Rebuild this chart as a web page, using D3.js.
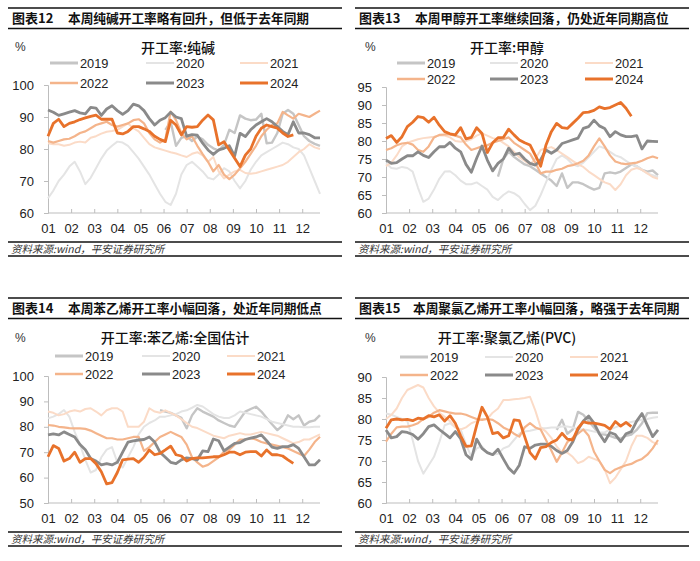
<!DOCTYPE html>
<html><head><meta charset="utf-8">
<script src="https://cdn.jsdelivr.net/npm/d3@7"></script>
<style>body{margin:0;background:#fff}svg{display:block}</style>
</head><body>
<svg id="c" width="700" height="561"></svg>
<script>
const months = ["01","02","03","04","05","06","07","08","09","10","11","12"];
const years = ["2019","2020","2021","2022","2023","2024"];

// 纯碱
const soda2019 = [null,null,null,null,null,null,null,null,null,null,null,null,null,null,null,null,null,null,null,null,null,null,
 86,88.5,81,83.5,84,82.5,83.9,83,81.3,80.2,79.5,81.3,86,85,90.5,89.5,89,89.2,91,81.8,82,85,91,92.2,91,87.5,84,82.5,81.6,81];
const soda2020 = [64.6,67,70,72,74.5,76,73,69,71,74,77,79.5,81,82.3,82,81,79,77,74.5,72,69,66,63.5,62.5,66,72,75,76,74.5,73,
 71,70.5,72,74,73,70,67.7,70,73.5,76,78,79,80,81,82,81.5,80.5,80,78,74,70,66];
const soda2021 = [81.8,81.5,81.5,81,81.3,82,82.3,82,83.5,84,84.8,85.4,85.6,86,87,88,86.5,85.5,83.5,81.5,80.5,80,79.5,79,78.6,78,
 77.5,78.5,79,78,76,77.5,73,70.8,72,73,73.5,72.5,72.3,72.5,73,73.5,74,74.5,75,76,77.5,79,80,81.5,80.5,80];
const soda2022 = [82.5,82,82.5,83,83.2,84,85,85.5,86.5,87.5,88,88.5,87.5,87,87.5,88,89,89.3,88,85,83,82,83,91.7,89,85,83,84,81,78.4,
 76,73,75,72,70.6,72,74,76,78.5,81,84,86,87.5,88,91.6,90.5,89.5,91,90.5,90,91,92];
const soda2023 = [92.2,91.5,90.5,91,91.5,92,91.3,91,93,92.8,90.5,92.5,93.5,92,90.8,92,94,93.5,92,89.5,87.5,89,89.8,91.5,90,89.5,
 84,84.5,84.3,81.8,79.7,78.3,79.7,80.2,81,77.8,84.9,83.9,86,87.5,88.5,89.5,88.5,87,85.5,84.5,88.5,85,85,84.5,83.5,83.5];
const soda2024 = [84,88,89.3,87,88,88.5,89.2,89.7,90.2,90.6,89.3,89.3,89.3,85,84.7,85.5,87,87,86.3,85.5,84,83,82.3,89,87.5,84.4,
 87,86.8,87,89,90.6,89.1,81.3,82.3,79.7,77.1,74.5,78.1,80,84,86.5,87.5,87,86.5,85,83.9,84.4];

// 甲醇
const meth2019 = [null,null,null,null,null,null,null,null,null,null,null,null,null,null,null,null,null,null,null,null,null,
 70.1,75,77,75.6,74.5,73.5,73,72,71,70,69,67.5,71,67,68.5,68.5,68,67.2,66.5,67,71,71.3,71,71.5,72.5,73.5,73,72,71.5,71.8,70.5];
const meth2020 = [73.8,72.5,72.3,72.8,72.5,71.5,67,63.1,64,66.5,69.5,71.5,71.6,70.5,69,68,68,68.5,67.5,66.5,64.5,63.6,65,66,65.5,64.5,
 62.5,60.8,62,65,68.5,72,75,76,75,73.5,73,74,75.5,77,78.5,78,77,76,75.5,74.5,73.5,73,72,71,70.5,70];
const meth2021 = [73,74,76,78.5,79.5,80,80.5,80.8,81,81.2,81.5,81.5,81,80,79.8,80,80.5,81.5,82.1,81.5,80.8,80.5,79.5,78.5,77,75.5,
 74.5,73.5,75,77.5,78,78.3,77.5,76.5,75.5,74.5,73.5,72.8,71.5,70.5,69.5,68.5,68,66.4,68,70.5,72,72.5,72,71,70,69.5];
const meth2022 = [77.5,78,78.8,79.3,79.5,79,77.5,77,78.5,81,81.7,81.8,81.8,81.5,81,79,77.5,78,78.5,78.8,79.5,80,80.5,81,79.5,78.5,
 77.5,76.5,74,71,71.5,71.5,72,72.3,73,73.3,73.8,74.5,76,78.5,80.7,78.5,76,74.3,73.8,73.6,73.8,74,74.5,75.2,75.7,75.2];
const meth2023 = [74.7,73.8,74,75,75.9,75.9,77,76,75.4,77,78.4,78.4,79.6,78,77,73.5,71.3,75.2,78.6,74.7,71.7,73.8,75,78,76.2,76.6,
 75,73.8,73.3,74.8,77.5,76.6,77.5,79.3,79.8,80.3,80.8,83.5,84,85.8,84.2,83.5,81.2,82.6,81.7,81.2,81.2,81.5,77.8,80,79.9,79.8];
const meth2024 = [80.7,81.5,79.6,81.2,84,85.2,86.8,86.5,85.2,86.6,84.4,82.6,82,81.7,83.7,80.6,81,83.7,82.1,76.8,79.5,80.9,81,83.3,
 81.7,80.3,79.5,78.9,76,73,78.9,82.6,84.9,83.7,83.5,84.9,86.3,87.9,88,88.5,89.5,89,89.3,90,90.7,89.1,86.9];

// 苯乙烯
const sty2019 = [null,null,null,null,null,null,null,null,null,null,null,null,null,null,null,null,null,null,null,null,null,
 86.6,86,85.5,84.5,83.5,79.4,84.5,87.3,86,85,84,82.5,81.5,80.5,80,83,86,87,87.9,86,83.5,81,78.7,80.5,84.5,83,84.5,80.5,82,82.5,84.6];
const sty2020 = [83.3,84,85,86.6,84,78,73,67,62,63,68,71,72,66,64,68,72,77,80,81.5,82.5,84,84,84.5,85,86,86.5,87.5,88.6,88,
 86.5,85,84,83.5,83.5,84.5,86,85.5,85,84.5,84,83,82,81.5,81,80.5,80,80,79.8,79.8,80,80];
const sty2021 = [86,85.5,84.5,85,86,86.5,86,87,87.3,86,84.5,86.5,87.3,87.3,86,80,80,80,82,87.3,86,85.5,86.5,85.5,84.5,83,
 81.5,80,79.5,78.5,77.5,76.5,76,75.5,76.5,77,77.5,77,77,77.5,78,77.5,77,76.5,75.5,74.5,73.5,74,75,75,76,77];
const sty2022 = [80.7,80.5,80,79.8,79.5,79.4,79.4,79.2,78.5,77.5,76.5,75.5,75.5,75,75,75.5,76,76,70.5,72,74,76,77,78,77,76,
 73,68,66,64.3,65,66.5,68,70.2,71,73,75,75,75.5,75,74,73.5,73,72.5,72,71.5,70.5,69.5,68.5,71,74,76.1];
const sty2023 = [76.8,77.2,76.8,78,77,76,73,71,67.5,66.5,65,65.5,65,66,70,74,74.5,74.8,75,76,74,70,68,66,65.5,67,
 67.8,67.5,67,70.5,70.2,75.2,74.5,70.5,72,73.5,73.8,75,75.5,76,76.8,74.5,72,71.5,72.2,72.2,73,71.5,68.2,65,65,67];
const sty2024 = [68.2,72.6,71.5,66.5,67.5,70,66,67.5,67.5,65.5,62.3,57.5,58,62,67,67.3,67.5,66,68,70.9,69,69.5,70.9,72.4,
 69,68.5,66.5,67.5,67.8,67.8,68,68.2,68.2,69,70,70,69,70,70.2,70.2,68.5,70.9,69,69,68.5,67,65.6];

// 聚氯乙烯
const pvc2019 = [null,null,null,null,null,null,null,null,null,null,null,null,null,null,null,null,null,null,null,null,null,null,null,null,
 null,null,null,null,null,null,null,null,
 77.4,79.8,76.5,77.5,81.7,81,79.5,78,76.5,76.3,76,75.5,75.3,76,76.3,77.4,79,81.4,81.5,81.5];
const pvc2020 = [81.3,81,80.5,80,79.5,75,70,67,69,71,74.5,78.5,79,78,77.5,74,71,73,73.5,72,71.5,71.7,73,73.5,75,76.5,
 77,77.2,77.5,77.8,77.8,78,78,78.2,78.2,78,77.5,77.5,77.3,77,76.8,76.8,77.5,78,78.5,79,79.3,79.6,79.8,80,80.3,80.5];
const pvc2021 = [80,81,82.5,85,86.9,87.5,88.1,87.5,85,83,81.5,80.5,79.5,78,77.5,78,79,79.5,80,80,81.5,82.5,84.5,84.5,84.7,84.8,
 85,85.3,82,78,77,75.5,73.5,72,72,71,69.5,70,71,70.5,70,68,64.7,66,68,70,73.5,76,76,75.5,74.5,74];
const pvc2022 = [74.6,76.5,78,78.2,78.2,78.5,79,80,80.5,81.5,82.1,81.8,81.5,81.3,81.3,81,80.5,80,79.8,80,79.8,79,78,77.4,76.5,75.8,
 78,79,78,77.5,75,72.5,69.8,72,74.5,75.5,76.5,77.5,76,72.2,70,67.9,67.1,68,68.5,69,69.3,70,70.5,71.5,73,75];
const pvc2023 = [77.4,75.5,75.8,77,76.8,76.3,75.2,76.5,78.2,78.6,77.5,76.5,75.5,77,75.3,71.5,70.4,75.2,73,72,71.5,72.8,70.5,68.3,67.1,69,
 73.4,73,73.8,74,74,73.5,72.5,71.8,72.5,74.5,77.5,79.5,80.7,79,76.5,74.6,76.8,76.3,74.6,76.5,77,79.5,81.3,78.5,75.8,77.4];
const pvc2024 = [77.8,79.8,80,79.8,79.9,79.6,80.2,80,80.8,80.5,81,79.5,80.8,79,76,73.5,73.6,78.5,82.8,80.5,76.5,76.8,75.5,76,
 79.8,79.6,75.8,72,70.5,73.2,73.4,74.4,75,76.6,75.2,75,77.8,79.3,79,79,78.8,78.5,77.6,79.4,78.3,79.2,78.2];

const yTicks1 = [60,70,80,90,100];
const yTicks2 = [60,65,70,75,80,85,90,95];
const yTicks3 = [50,60,70,80,90,100];
const yTicks4 = [60,65,70,75,80,85,90];

const colors = ["#c5c5c5","#e4e4e4","#fbdbc7","#f4b48b","#8a8a8a","#e8722b"];
const widths = [2.4,2,2,2.2,2.8,2.8];
const legW = [3,2,2,2.5,3,3];

const panels = [
  {fig:"图表12", head:"本周纯碱开工率略有回升，但低于去年同期", name:"开工率:纯碱",
   hx:8, hy:0, ax:48, yTop:85, yBot:213, dom:[60,100], ticks:yTicks1,
   series:[soda2019,soda2020,soda2021,soda2022,soda2023,soda2024],
   leg:{cols:[50,146,240], rows:[63,83]}, titleX:178, titleY:50, pctX:15, pctY:47, headX:68},
  {fig:"图表13", head:"本周甲醇开工率继续回落，仍处近年同期高位", name:"开工率:甲醇",
   hx:355, hy:0, ax:386, yTop:87, yBot:213, dom:[60,95], ticks:yTicks2,
   series:[meth2019,meth2020,meth2021,meth2022,meth2023,meth2024],
   leg:{cols:[397,490,585], rows:[63,79]}, titleX:507, titleY:50, pctX:365, pctY:47, headX:415},
  {fig:"图表14", head:"本周苯乙烯开工率小幅回落，处近年同期低点", name:"开工率:苯乙烯:全国估计",
   hx:8, hy:290, ax:48, yTop:376, yBot:503, dom:[50,100], ticks:yTicks3,
   series:[sty2019,sty2020,sty2021,sty2022,sty2023,sty2024],
   leg:{cols:[55,142,227], rows:[356,374]}, titleX:175, titleY:340, pctX:15, pctY:338, headX:68},
  {fig:"图表15", head:"本周聚氯乙烯开工率小幅回落，略强于去年同期", name:"开工率:聚氯乙烯(PVC)",
   hx:355, hy:290, ax:386, yTop:377, yBot:503, dom:[60,90], ticks:yTicks4,
   series:[pvc2019,pvc2020,pvc2021,pvc2022,pvc2023,pvc2024],
   leg:{cols:[400,485,570], rows:[357,375]}, titleX:507, titleY:340, pctX:365, pctY:338, headX:413}
];

const svg = d3.select("#c");
const numFont = "'Liberation Sans', Arial, 'Noto Sans CJK SC', sans-serif";
const cjkFont = "'Noto Sans CJK SC', 'Liberation Sans', sans-serif";

panels.forEach(p => {
  const g = svg.append("g");
  const hw = 334;
  // header
  g.append("line").attr("x1",p.hx).attr("x2",p.hx+hw).attr("y1",p.hy+8).attr("y2",p.hy+8).attr("stroke","#111").attr("stroke-width",1.6);
  g.append("line").attr("x1",p.hx).attr("x2",p.hx+hw).attr("y1",p.hy+28.5).attr("y2",p.hy+28.5).attr("stroke","#111").attr("stroke-width",1.6);
  g.append("text").attr("x",p.hx+4).attr("y",p.hy+23).attr("font-family",cjkFont).attr("font-weight","bold")
    .attr("font-size",13).attr("fill","#111").text(p.fig);
  g.append("text").attr("x",p.headX).attr("y",p.hy+23).attr("font-family",cjkFont).attr("font-weight","bold")
    .attr("font-size",12.7).attr("fill","#111").text(p.head);
  // source
  const sy = p.hy + 242;
  g.append("line").attr("x1",p.hx).attr("x2",p.hx+hw).attr("y1",sy).attr("y2",sy).attr("stroke","#111").attr("stroke-width",1.4);
  g.append("line").attr("x1",p.hx).attr("x2",p.hx+hw).attr("y1",sy+14).attr("y2",sy+14).attr("stroke","#111").attr("stroke-width",1.4);
  g.append("text").attr("x",p.hx+3).attr("y",sy+10.5).attr("font-family",cjkFont).attr("font-style","italic")
    .attr("font-size",10.5).attr("fill","#333").text("资料来源:wind，平安证券研究所");

  // scales
  const x = d3.scaleLinear().domain([0,51]).range([p.ax, p.ax+272]);
  const y = d3.scaleLinear().domain(p.dom).range([p.yBot, p.yTop]);

  // axes
  const yAxis = d3.axisLeft(y).tickValues(p.ticks).tickSize(4).tickPadding(10).tickFormat(d3.format("d"));
  const ya = g.append("g").attr("transform",`translate(${p.ax},0)`).call(yAxis);
  ya.select(".domain").attr("stroke","#bdbdbd");
  ya.selectAll(".tick line").attr("stroke","#bdbdbd");
  ya.selectAll(".tick text").attr("font-family",numFont).attr("font-size",13).attr("fill","#222");

  const monthX = d3.scaleLinear().domain([0,12]).range([x(0), x(52)]);
  const xAxis = d3.axisBottom(monthX).tickValues(d3.range(12)).tickSize(-4).tickPadding(11)
    .tickFormat(i => months[i]);
  const xa = g.append("g").attr("transform",`translate(0,${p.yBot})`).call(xAxis);
  xa.select(".domain").attr("d",`M${x(0)},0H${x(51)}`).attr("stroke","#bdbdbd");
  xa.selectAll(".tick line").attr("stroke","#bdbdbd");
  xa.selectAll(".tick text").attr("font-family",numFont).attr("font-size",13).attr("fill","#222");

  // lines
  const line = d3.line().defined(d => d != null).x((d,i) => x(i)).y(d => y(d));
  p.series.forEach((s,k) => {
    g.append("path").datum(s).attr("d",line).attr("fill","none")
      .attr("stroke",colors[k]).attr("stroke-width",widths[k]).attr("stroke-linejoin","round");
  });

  // labels
  g.append("text").attr("x",p.pctX).attr("y",p.pctY+4).attr("font-family",numFont).attr("font-size",12).attr("fill","#333").text("%");
  g.append("text").attr("x",p.titleX).attr("y",p.titleY+3).attr("text-anchor","middle").attr("font-family",cjkFont)
    .attr("font-size",14).attr("font-weight",500).attr("fill","#111").text(p.name);

  // legend
  years.forEach((yr,k) => {
    const cx = p.leg.cols[k%3], cy = p.leg.rows[Math.floor(k/3)];
    g.append("line").attr("x1",cx).attr("x2",cx+28).attr("y1",cy).attr("y2",cy)
      .attr("stroke",colors[k]).attr("stroke-width",legW[k]);
    g.append("text").attr("x",cx+30).attr("y",cy+4.5).attr("font-family",numFont).attr("font-size",12.8)
      .attr("fill","#222").text(yr);
  });
});
</script>
</body></html>
